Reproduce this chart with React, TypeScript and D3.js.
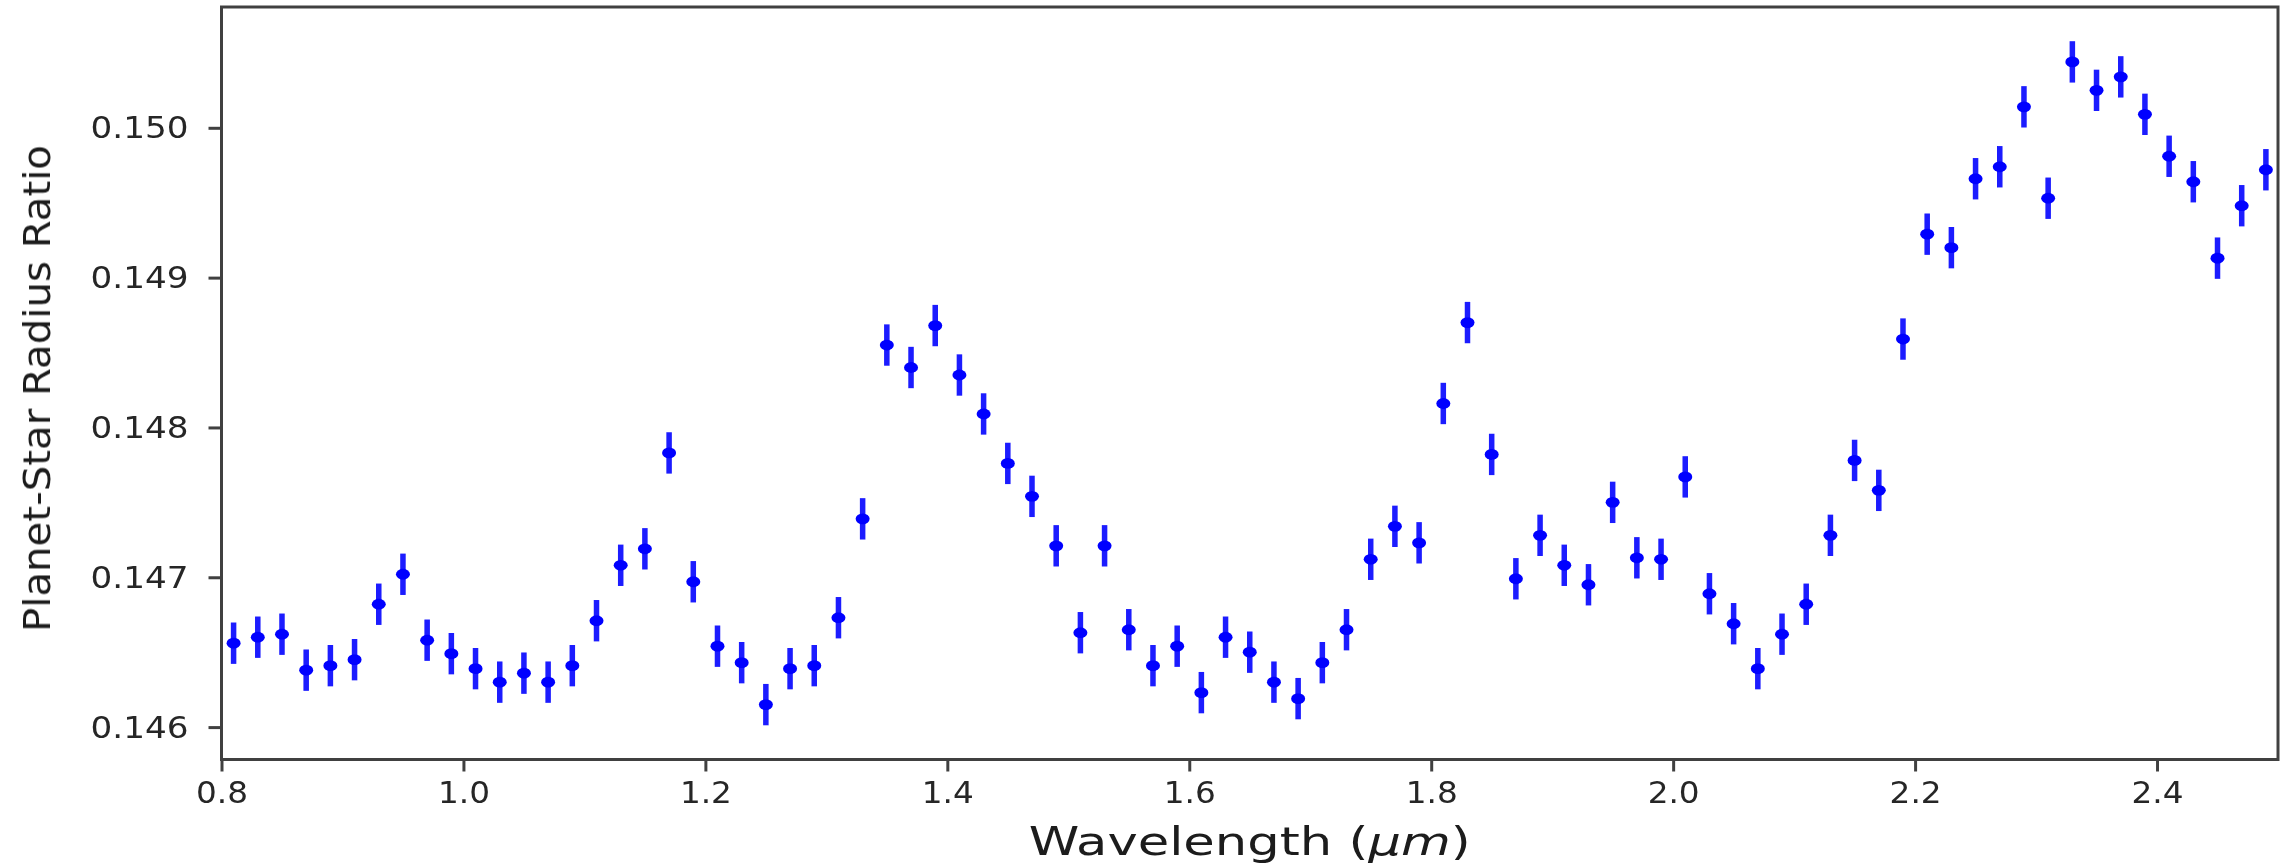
import React, { useRef, useEffect } from 'react';
import * as d3 from 'd3';

// wavelength bins (micron)
const wavelengths = [
  0.81, 0.83, 0.85, 0.87, 0.89, 0.91, 0.93, 0.95, 0.97, 0.99,
  1.01, 1.03, 1.05, 1.07, 1.09, 1.11, 1.13, 1.15, 1.17, 1.19,
  1.21, 1.23, 1.25, 1.27, 1.29, 1.31, 1.33, 1.35, 1.37, 1.39,
  1.41, 1.43, 1.45, 1.47, 1.49, 1.51, 1.53, 1.55, 1.57, 1.59,
  1.61, 1.63, 1.65, 1.67, 1.69, 1.71, 1.73, 1.75, 1.77, 1.79,
  1.81, 1.83, 1.85, 1.87, 1.89, 1.91, 1.93, 1.95, 1.97, 1.99,
  2.01, 2.03, 2.05, 2.07, 2.09, 2.11, 2.13, 2.15, 2.17, 2.19,
  2.21, 2.23, 2.25, 2.27, 2.29, 2.31, 2.33, 2.35, 2.37, 2.39,
  2.41, 2.43, 2.45, 2.47, 2.49,
];

// measured Rp/Rs per bin
const radiusRatio = [
  0.14656, 0.14660, 0.14662, 0.14638, 0.14641, 0.14645, 0.14682, 0.14702, 0.14658, 0.14649,
  0.14639, 0.14630, 0.14636, 0.14630, 0.14641, 0.14671, 0.14708, 0.14719, 0.14783, 0.14697,
  0.14654, 0.14643, 0.14615, 0.14639, 0.14641, 0.14673, 0.14739, 0.14855, 0.14840, 0.14868,
  0.14835, 0.14809, 0.14776, 0.14754, 0.14721, 0.14663, 0.14721, 0.14665, 0.14641, 0.14654,
  0.14623, 0.14660, 0.14650, 0.14630, 0.14619, 0.14643, 0.14665, 0.14712, 0.14734, 0.14723,
  0.14816, 0.14870, 0.14782, 0.14699, 0.14728, 0.14708, 0.14695, 0.14750, 0.14713, 0.14712,
  0.14767, 0.14689, 0.14669, 0.14639, 0.14662, 0.14682, 0.14728, 0.14778, 0.14758, 0.14859,
  0.14929, 0.14920, 0.14966, 0.14974, 0.15014, 0.14953, 0.15044, 0.15025, 0.15034, 0.15009,
  0.14981, 0.14964, 0.14913, 0.14948, 0.14972,
];

// 1-sigma uncertainty (same for every bin)
const radiusErr = 0.000138;

const xTicks = [0.8, 1.0, 1.2, 1.4, 1.6, 1.8, 2.0, 2.2, 2.4];
const yTicks = [0.146, 0.147, 0.148, 0.149, 0.150];

const App = () => {
  const svgRef = useRef<SVGSVGElement>(null);

  useEffect(() => {
    const width = 2295;
    const height = 866;
    const margin = { top: 7, right: 17, bottom: 106.5, left: 221.5 };
    const innerWidth = width - margin.left - margin.right;
    const innerHeight = height - margin.top - margin.bottom;
    const axisColor = '#404040';
    const textColor = '#262626';

    const svg = d3.select(svgRef.current)
      .attr('width', width)
      .attr('height', height)
      .html('');

    // the source image is an upscaled raster, so soften everything a little
    svg.append('defs').append('filter')
      .attr('id', 'soft')
      .append('feGaussianBlur')
      .attr('stdDeviation', 0.7);

    svg.append('rect').attr('width', width).attr('height', height).attr('fill', '#fff');

    const root = svg.append('g').attr('filter', 'url(#soft)');
    const g = root.append('g').attr('transform', `translate(${margin.left},${margin.top})`);

    // matplotlib-style autoscale: data extent incl. error bars + 5% margin
    const lo = d3.min(radiusRatio)! - radiusErr;
    const hi = d3.max(radiusRatio)! + radiusErr;
    const pad = (hi - lo) * 0.05;

    const xScale = d3.scaleLinear().domain([0.8, 2.5]).range([0, innerWidth]);
    const yScale = d3.scaleLinear().domain([lo - pad, hi + pad]).range([innerHeight, 0]);

    // --- Axes ---
    const yAxis = d3.axisLeft(yScale)
      .tickValues(yTicks)
      .tickFormat(d3.format('.3f'))
      .tickSize(13)
      .tickPadding(20);
    const yg = g.append('g').call(yAxis);
    yg.select('.domain').remove();
    yg.selectAll('line').attr('stroke', axisColor).attr('stroke-width', 3);
    yg.selectAll('text')
      .attr('fill', textColor)
      .attr('font-family', 'DejaVu Sans')
      .attr('font-size', 31)
      .attr('textLength', 98)
      .attr('lengthAdjust', 'spacingAndGlyphs');

    const xAxis = d3.axisBottom(xScale)
      .tickValues(xTicks)
      .tickFormat(d3.format('.1f'))
      .tickSize(12);
    const xg = g.append('g').attr('transform', `translate(0,${innerHeight})`).call(xAxis);
    xg.select('.domain').remove();
    xg.selectAll('line').attr('stroke', axisColor).attr('stroke-width', 3);
    xg.selectAll('text')
      .attr('y', 43.2)
      .attr('dy', null)
      .attr('fill', textColor)
      .attr('font-family', 'DejaVu Sans')
      .attr('font-size', 31)
      .attr('textLength', 52)
      .attr('lengthAdjust', 'spacingAndGlyphs');

    // --- Error bars + markers ---
    const pts = g.append('g');
    pts.selectAll('line.err')
      .data(radiusRatio)
      .join('line')
      .attr('class', 'err')
      .attr('x1', (d, i) => xScale(wavelengths[i]))
      .attr('x2', (d, i) => xScale(wavelengths[i]))
      .attr('y1', d => yScale(d - radiusErr))
      .attr('y2', d => yScale(d + radiusErr))
      .attr('stroke', '#1a1aff')
      .attr('stroke-width', 5.5);

    pts.selectAll('ellipse')
      .data(radiusRatio)
      .join('ellipse')
      .attr('cx', (d, i) => xScale(wavelengths[i]))
      .attr('cy', d => yScale(d))
      .attr('rx', 7)
      .attr('ry', 5.4)
      .attr('fill', '#0000ff');

    // frame
    g.append('rect')
      .attr('width', innerWidth)
      .attr('height', innerHeight)
      .attr('fill', 'none')
      .attr('stroke', axisColor)
      .attr('stroke-width', 3);

    // --- Axis labels ---
    root.append('text')
      .attr('transform', 'translate(50,388.5) rotate(-90)')
      .attr('text-anchor', 'middle')
      .attr('font-family', 'DejaVu Sans')
      .attr('font-size', 38)
      .attr('fill', '#1a1a1a')
      .attr('textLength', 487)
      .attr('lengthAdjust', 'spacingAndGlyphs')
      .text('Planet-Star Radius Ratio');

    const xl = root.append('text')
      .attr('x', margin.left + innerWidth / 2)
      .attr('y', 855)
      .attr('text-anchor', 'middle')
      .attr('font-family', 'DejaVu Sans')
      .attr('font-size', 39)
      .attr('fill', '#1a1a1a')
      .attr('textLength', 442)
      .attr('lengthAdjust', 'spacingAndGlyphs');
    xl.append('tspan').text('Wavelength (');
    xl.append('tspan').attr('font-style', 'italic').text('μm');
    xl.append('tspan').text(')');
  }, []);

  return (
    <svg ref={svgRef} style={{ position: 'absolute', left: 0, top: 0, display: 'block' }}></svg>
  );
};

export default App;
